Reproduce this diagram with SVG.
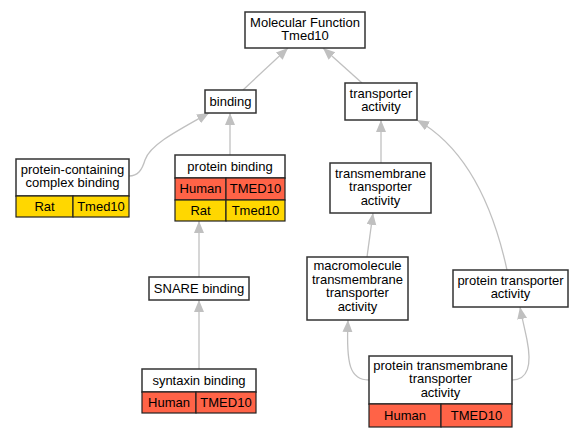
<svg xmlns="http://www.w3.org/2000/svg" width="584" height="437" viewBox="0 0 584 437">
<style>
text{font-family:"Liberation Sans",Arial,sans-serif;font-size:13px;fill:#000;text-anchor:middle}
.n{fill:#fff;stroke:#333;stroke-width:1.5}
.h{fill:#ff6347;stroke:#222;stroke-width:1.2}
.r{fill:#ffd700;stroke:#222;stroke-width:1.2}
.e{fill:none;stroke:#c0c0c0;stroke-width:1.3;marker-end:url(#a)}
</style>
<defs>
<marker id="a" markerUnits="userSpaceOnUse" markerWidth="13" markerHeight="11" refX="12" refY="5" orient="auto" viewBox="0 0 13 11">
<path d="M0,0 L12,5 L0,10 z" fill="#c0c0c0"/>
</marker>
</defs>
<g id="edges">
<path class="e" d="M243,90 L288,48"/>
<path class="e" d="M362,83 L323,48"/>
<path class="e" d="M129,176 C138,176 142,170 145,160 C150,145 175,132 209,113"/>
<path class="e" d="M230,155 L230,113"/>
<path class="e" d="M199,277 L199,221"/>
<path class="e" d="M199,369 L199,300"/>
<path class="e" d="M381,163 L381,120"/>
<path class="e" d="M507,270 C495,215 470,150 417,120"/>
<path class="e" d="M367,257 L373,213"/>
<path class="e" d="M369,380 C350,380 346,365 348,320"/>
<path class="e" d="M512,380 C528,380 532,365 527,340 C525,330 522,318 520,307"/>
</g>
<g id="mf">
<rect class="n" x="245" y="12" width="120" height="36"/>
<text x="305" y="27">Molecular Function</text>
<text x="305" y="39.5">Tmed10</text>
</g>
<g id="binding">
<rect class="n" x="205" y="90" width="51" height="23"/>
<text x="230.5" y="106">binding</text>
</g>
<g id="transporter">
<rect class="n" x="345" y="83" width="72" height="37"/>
<text x="381" y="98">transporter</text>
<text x="381" y="111">activity</text>
</g>
<g id="pccb">
<rect class="n" x="16" y="159" width="113" height="37"/>
<text x="72.5" y="174">protein-containing</text>
<text x="72.5" y="187">complex binding</text>
<rect class="r" x="16" y="196" width="57" height="21"/>
<rect class="r" x="73" y="196" width="56" height="21"/>
<text x="44.5" y="211">Rat</text>
<text x="101" y="211">Tmed10</text>
</g>
<g id="proteinbinding">
<rect class="n" x="175" y="155" width="110" height="23"/>
<text x="230" y="171">protein binding</text>
<rect class="h" x="175" y="178" width="51" height="22"/>
<rect class="h" x="226" y="178" width="59" height="22"/>
<text x="200.5" y="193">Human</text>
<text x="255.5" y="193">TMED10</text>
<rect class="r" x="175" y="200" width="51" height="21"/>
<rect class="r" x="226" y="200" width="59" height="21"/>
<text x="200.5" y="215">Rat</text>
<text x="255.5" y="215">Tmed10</text>
</g>
<g id="tta">
<rect class="n" x="330" y="163" width="101" height="50"/>
<text x="380.5" y="178">transmembrane</text>
<text x="380.5" y="191">transporter</text>
<text x="380.5" y="205">activity</text>
</g>
<g id="snare">
<rect class="n" x="149" y="277" width="100" height="23"/>
<text x="199" y="293">SNARE binding</text>
</g>
<g id="macro">
<rect class="n" x="307" y="257" width="101" height="63"/>
<text x="357.5" y="270">macromolecule</text>
<text x="357.5" y="284">transmembrane</text>
<text x="357.5" y="297">transporter</text>
<text x="357.5" y="310.5">activity</text>
</g>
<g id="pta">
<rect class="n" x="453" y="270" width="115" height="37"/>
<text x="510.5" y="285">protein transporter</text>
<text x="510.5" y="298">activity</text>
</g>
<g id="syntaxin">
<rect class="n" x="142" y="369" width="114" height="23"/>
<text x="199" y="385">syntaxin binding</text>
<rect class="h" x="142" y="392" width="54" height="21"/>
<rect class="h" x="196" y="392" width="60" height="21"/>
<text x="169" y="407">Human</text>
<text x="226" y="407">TMED10</text>
</g>
<g id="ptta">
<rect class="n" x="369" y="356" width="143" height="48"/>
<text x="440.5" y="370">protein transmembrane</text>
<text x="440.5" y="383">transporter</text>
<text x="440.5" y="397">activity</text>
<rect class="h" x="369" y="404" width="72" height="23"/>
<rect class="h" x="441" y="404" width="71" height="23"/>
<text x="405" y="420">Human</text>
<text x="476.5" y="420">TMED10</text>
</g>
</svg>
